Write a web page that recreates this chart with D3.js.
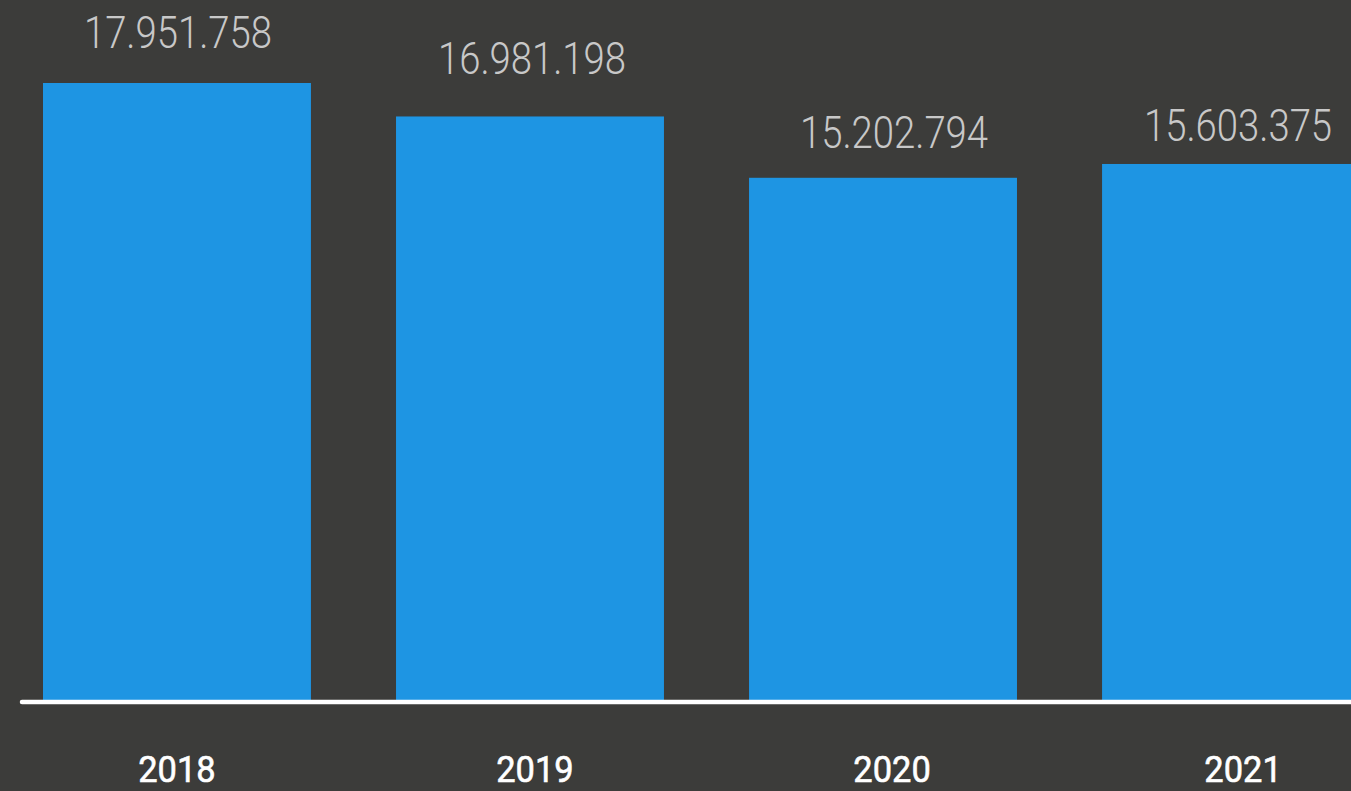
<!DOCTYPE html>
<html>
<head>
<meta charset="utf-8">
<script src="https://cdn.jsdelivr.net/npm/d3@7/dist/d3.min.js"></script>
<style>
  html, body { margin: 0; padding: 0; background: #3c3c3a; overflow: hidden; }
  svg { display: block; }
</style>
</head>
<body>
<svg id="chart" width="1351" height="791"></svg>
<script>
// Yearly totals
const years = ["2018", "2019", "2020", "2021"];
const totals = [17951758, 16981198, 15202794, 15603375];
const valueLabels = ["17.951.758", "16.981.198", "15.202.794", "15.603.375"];

// Layout tweaks for the labels (pixels)
const valueLift = [35, 42, 30, 23];
const valueShift = [1, 2, 11, 2];
const yearShift = [0, 5, 9, 7];

const W = 1351, H = 791;
const svg = d3.select("#chart");

svg.append("rect").attr("width", W).attr("height", H).attr("fill", "#3c3c3a");

const x = d3.scaleBand()
  .domain(years)
  .range([43, 1370])
  .paddingInner(0.241)
  .paddingOuter(0);

const y = d3.scaleLinear()
  .domain([0, d3.max(totals)])
  .range([702, 83]);

const data = years.map((yr, i) => ({ year: yr, value: totals[i], label: valueLabels[i], i }));

// Bars
svg.append("g").selectAll("rect")
  .data(data)
  .join("rect")
  .attr("x", d => x(d.year))
  .attr("y", d => y(d.value))
  .attr("width", x.bandwidth())
  .attr("height", d => y(0) - y(d.value))
  .attr("fill", "#1e95e3");

// Baseline
svg.append("line")
  .attr("x1", 22).attr("x2", W + 10)
  .attr("y1", y(0)).attr("y2", y(0))
  .attr("stroke", "#ffffff")
  .attr("stroke-width", 4.5)
  .attr("stroke-linecap", "round");

// Value labels, narrowed horizontally for a condensed look
svg.append("g").selectAll("text")
  .data(data)
  .join("text")
  .attr("transform", d =>
    `translate(${x(d.year) + x.bandwidth() / 2 + valueShift[d.i]},${y(d.value) - valueLift[d.i]}) scale(0.87,1)`)
  .attr("text-anchor", "middle")
  .attr("font-family", "Roboto, 'Noto Sans', sans-serif")
  .attr("font-weight", 300)
  .attr("font-size", 44)
  .attr("fill", "#c8c8c8")
  .text(d => d.label);

// Year labels
svg.append("g").selectAll("text")
  .data(data)
  .join("text")
  .attr("transform", d =>
    `translate(${x(d.year) + x.bandwidth() / 2 + yearShift[d.i]},781.5) scale(0.92,1)`)
  .attr("text-anchor", "middle")
  .attr("font-family", "Roboto, 'Noto Sans', sans-serif")
  .attr("font-weight", 400)
  .attr("font-size", 37.5)
  .attr("fill", "#ffffff")
  .attr("stroke", "#ffffff")
  .attr("stroke-width", 0.6)
  .text(d => d.year);
</script>
</body>
</html>
